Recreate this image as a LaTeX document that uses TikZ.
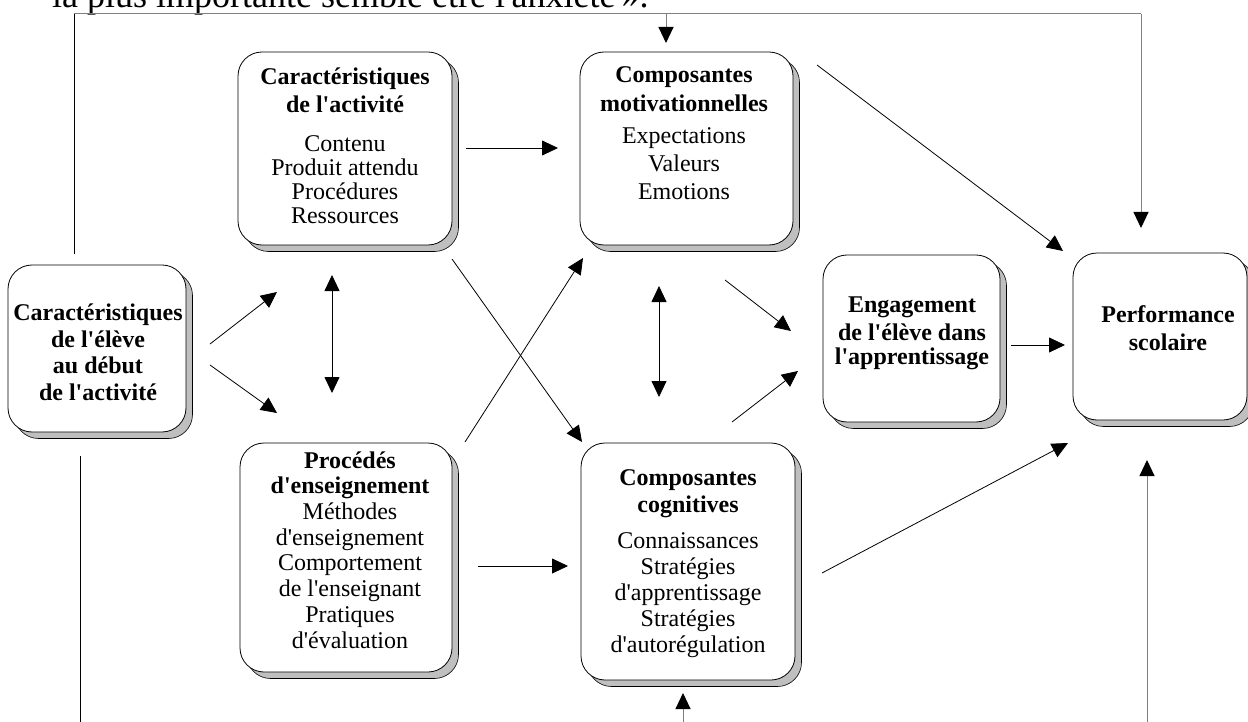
\documentclass[tikz,border=0pt]{standalone}
\usepackage{fontspec}
\setmainfont{Liberation Serif}[Ligatures=TeXOff]
\usetikzlibrary{arrows.meta,shadows}
\begin{document}
\begin{tikzpicture}[x=1pt,y=-1pt,
  box/.style={draw=black, line width=0.8pt, rounded corners=24pt, fill=white, inner sep=0pt,
    general shadow={fill=black!25, draw=black, line width=0.6pt, shadow xshift=6.5pt, shadow yshift=-6.5pt}},
  lbl/.style={align=center, inner sep=0pt, anchor=base, font=\fontsize{24}{24}\selectfont},
  tip/.style={-{Triangle[length=16pt,width=15pt,color=black]}},
  arr/.style={draw=black, line width=0.8pt, tip},
  darr/.style={draw=black, line width=0.8pt, {Triangle[length=16pt,width=15pt]}-{Triangle[length=16pt,width=15pt]}},
  fb/.style={draw=black!50, line width=1pt},
  fbk/.style={draw=black, line width=0.8pt}]
\useasboundingbox (0,0) rectangle (1248,722);
\clip (0,0) rectangle (1248,722);
\fill[white] (0,0) rectangle (1248,722);

% clipped body text
\node[anchor=base west, inner sep=0pt, font=\fontsize{36}{40}\selectfont] (body) at (52,8) {la plus importante semble être l'anxiété\,».};

% boxes
\node[box, minimum width=178pt, minimum height=167pt] (eleve) at (97,348.5) {};
\node[box, minimum width=214pt, minimum height=193pt] (activ) at (345,148.5) {};
\node[box, minimum width=213pt, minimum height=193pt] (motiv) at (686.5,148.5) {};
\node[box, minimum width=212pt, minimum height=229pt] (proc) at (346,557.5) {};
\node[box, minimum width=214pt, minimum height=237pt] (cogn) at (688,561.5) {};
\node[box, minimum width=177pt, minimum height=167pt] (engag) at (911.5,338.5) {};
\node[box, minimum width=174pt, minimum height=167pt] (perf) at (1160,336.5) {};

% labels (anchor = baseline of last line)
\node[lbl] (televe) at (98,400) {\textbf{Caractéristiques}\\[2.5pt]\textbf{de l'élève}\\[2.5pt]\textbf{au début}\\[2.5pt]\textbf{de l'activité}};
\node[lbl] (tactiv) at (345,224) {\textbf{Caractéristiques}\\[4pt]\textbf{de l'activité}\\[15pt]Contenu\\Produit attendu\\Procédures\\Ressources};
\node[lbl] (tmotiv) at (684,200) {\textbf{Composantes}\\[5pt]\textbf{motivationnelles}\\[8pt]Expectations\\[4pt]Valeurs\\[4pt]Emotions};
\node[lbl] (tproc) at (350,648) {\textbf{Procédés}\\[1.7pt]\textbf{d'enseignement}\\[1.7pt]Méthodes\\[1.7pt]d'enseignement\\[1.7pt]Comportement\\[1.7pt]de l'enseignant\\[1.7pt]Pratiques\\[1.7pt]d'évaluation};
\node[lbl] (tcogn) at (688,652) {\textbf{Composantes}\\[3pt]\textbf{cognitives}\\[12pt]Connaissances\\[2pt]Stratégies\\[2pt]d'apprentissage\\[2pt]Stratégies\\[2pt]d'autorégulation};
\node[lbl] (tengag) at (912,364) {\textbf{Engagement}\\[4pt]\textbf{de l'élève dans}\\\textbf{l'apprentissage}};
\node[lbl] (tperf) at (1168,350) {\textbf{Performance}\\[4pt]\textbf{scolaire}};

% arrow end points
\coordinate (a1s) at (210,344); \coordinate (a1e) at (277,292);
\coordinate (a2s) at (210,365); \coordinate (a2e) at (277,413);
\coordinate (a3s) at (332,275); \coordinate (a3e) at (332,393);
\coordinate (a4s) at (466,148); \coordinate (a4e) at (558,148);
\coordinate (a5s) at (452,259); \coordinate (a5e) at (582,442);
\coordinate (a6s) at (465,442); \coordinate (a6e) at (583,258);
\coordinate (a7s) at (659,286); \coordinate (a7e) at (659,397);
\coordinate (a8s) at (725,280); \coordinate (a8e) at (791,331);
\coordinate (a9s) at (732,422); \coordinate (a9e) at (798,371);
\coordinate (a10s) at (478,566); \coordinate (a10e) at (568,566);
\coordinate (a11s) at (1011,345); \coordinate (a11e) at (1065,345);
\coordinate (a12s) at (817,65); \coordinate (a12e) at (1063,251);
\coordinate (a13s) at (822,573); \coordinate (a13e) at (1068,443);

\draw[arr] (a1s) -- (a1e);
\draw[arr] (a2s) -- (a2e);
\draw[darr] (a3s) -- (a3e);
\draw[arr] (a4s) -- (a4e);
\draw[arr] (a5s) -- (a5e);
\draw[arr] (a6s) -- (a6e);
\draw[darr] (a7s) -- (a7e);
\draw[arr] (a8s) -- (a8e);
\draw[arr] (a9s) -- (a9e);
\draw[arr] (a10s) -- (a10e);
\draw[arr] (a11s) -- (a11e);
\draw[arr] (a12s) -- (a12e);
\draw[arr] (a13s) -- (a13e);

% feedback lines
\coordinate (tl) at (74,14); \coordinate (tr) at (1141,14);
\coordinate (tm) at (666,14);
\coordinate (lup) at (74,254);
\coordinate (tre) at (1141,228); \coordinate (tme) at (666,43);
\coordinate (lb1) at (80,456); \coordinate (lb2) at (80,722);
\coordinate (cb1) at (683,722); \coordinate (cb2) at (683,693);
\coordinate (rb1) at (1147,722); \coordinate (rb2) at (1147,460);

\draw[fbk] (lup) -- (tl);
\draw[fb] (tl) -- (tr);
\draw[fb, tip] (tr) -- (tre);
\draw[fb, tip] (tm) -- (tme);
\draw[fbk] (lb1) -- (lb2);
\draw[fb, tip] (cb1) -- (cb2);
\draw[fb, tip] (rb1) -- (rb2);
\end{tikzpicture}
\end{document}
